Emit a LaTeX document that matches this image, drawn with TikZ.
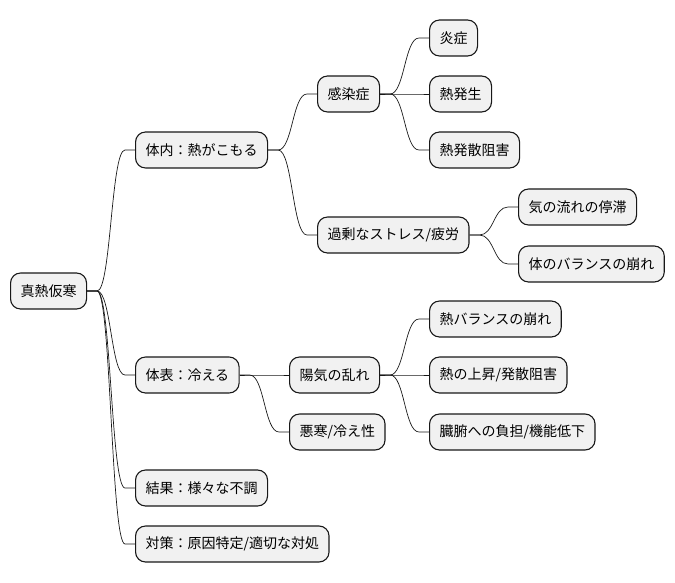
\documentclass[tikz,border=0pt]{standalone}
\usepackage{fontspec}
\setmainfont{Noto Sans CJK JP}
\usetikzlibrary{calc}
\definecolor{boxfill}{HTML}{F1F1F1}
\definecolor{boxline}{HTML}{181818}

\begin{document}
\begin{tikzpicture}[
  x=1pt, y=-1pt,
  % ── node styles ──────────────────────────────────────────
  topic/.style={
    rectangle, rounded corners=10pt,
    minimum height=36pt, inner xsep=10pt, inner ysep=0pt,
    anchor=west, draw=boxline, fill=boxfill, line width=1.1pt,
    font=\fontsize{14}{16}\selectfont
  },
  % ── link style ───────────────────────────────────────────
  branch/.style={draw=boxline, line width=0.7pt,
    to path={let \p1=(\tikztostart), \p2=(\tikztotarget) in
      (\p1) -- (\x1+10pt,\y1)
      .. controls ({(\x1+\x2)/2},\y1) and ({(\x1+\x2)/2},\y2) ..
      (\x2-10pt,\y2) -- (\p2)}},
]
\useasboundingbox (0,0) rectangle (675,583);

%% ── ROOT ─────────────────────────────────────────────────────
\node[topic] (root) at (10,291) {真熱仮寒};

%% ── FIRST LEVEL ──────────────────────────────────────────────
\node[topic] (naibu)  at (135,150) {体内：熱がこもる};
\node[topic] (hyomen) at (135,375) {体表：冷える};
\node[topic] (kekka)  at (135,488) {結果：様々な不調};
\node[topic] (taisak) at (135,544) {対策：原因特定/適切な対処};

%% ── SECOND LEVEL ─────────────────────────────────────────────
\node[topic] (kansen) at (317,94)  {感染症};
\node[topic] (kajou)  at (317,235) {過剰なストレス/疲労};
\node[topic] (youki)  at (289,375) {陽気の乱れ};
\node[topic] (okan)   at (289,432) {悪寒/冷え性};

%% ── LEAVES ───────────────────────────────────────────────────
\node[topic] (enshou) at (429,38)  {炎症};
\node[topic] (netsuh) at (429,94)  {熱発生};
\node[topic] (sosai)  at (429,150) {熱発散阻害};
\node[topic] (teitai) at (518,207) {気の流れの停滞};
\node[topic] (kuzure) at (518,264) {体のバランスの崩れ};
\node[topic] (nbal)   at (429,319) {熱バランスの崩れ};
\node[topic] (joshou) at (429,375) {熱の上昇/発散阻害};
\node[topic] (zoufu)  at (429,432) {臓腑への負担/機能低下};

%% ── LINKS ────────────────────────────────────────────────────
\foreach \a/\b in {root/naibu, root/hyomen, root/kekka, root/taisak,
                   naibu/kansen, naibu/kajou, hyomen/youki, hyomen/okan,
                   kansen/enshou, kansen/netsuh, kansen/sosai,
                   kajou/teitai, kajou/kuzure,
                   youki/nbal, youki/joshou, youki/zoufu}
  \draw[branch] (\a.east) to (\b.west);

\end{tikzpicture}
\end{document}
